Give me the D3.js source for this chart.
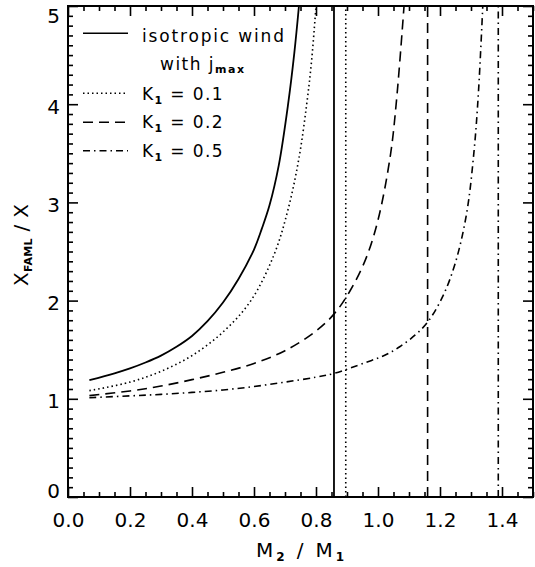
<!DOCTYPE html>
<html><head><meta charset="utf-8">
<script src="https://cdn.jsdelivr.net/npm/d3@7"></script>
<style>
html,body{margin:0;padding:0;background:#fff;}
svg{display:block;}
text{font-family:"DejaVu Sans",sans-serif;fill:#000;}
</style></head>
<body><svg id="c" width="535" height="567"></svg>
<script>
// ---- data ----
const xDomain = [0, 1.5];
const yDomain = [0, 5];
const xMajorTicks = [0.0, 0.2, 0.4, 0.6, 0.8, 1.0, 1.2, 1.4];
const yMajorTicks = [0, 1, 2, 3, 4, 5];

const seriesNames = ["isotropic wind", "K\u2081 = 0.1", "K\u2081 = 0.2", "K\u2081 = 0.5"];

const qSolid  = [0.069, 0.15, 0.20, 0.25, 0.30, 0.35, 0.40, 0.45, 0.50, 0.55, 0.60, 0.625, 0.65, 0.68, 0.71, 0.73, 0.745];
const ySolid  = [1.19, 1.26, 1.31, 1.37, 1.44, 1.53, 1.64, 1.79, 1.98, 2.22, 2.52, 2.73, 2.97, 3.38, 4.00, 4.52, 5.00];

const qK01 = [0.069, 0.20, 0.30, 0.40, 0.50, 0.59, 0.665, 0.71, 0.745, 0.77, 0.786, 0.80];
const yK01 = [1.083, 1.17, 1.28, 1.44, 1.68, 2.00, 2.47, 2.93, 3.45, 4.00, 4.45, 5.00];

const qK02 = [0.069, 0.20, 0.30, 0.40, 0.50, 0.60, 0.70, 0.80, 0.86, 0.91, 0.96, 1.00, 1.04, 1.06, 1.084];
const yK02 = [1.032, 1.08, 1.13, 1.195, 1.27, 1.36, 1.49, 1.69, 1.87, 2.10, 2.42, 2.82, 3.48, 4.05, 5.00];

const qK05 = [0.069, 0.20, 0.30, 0.40, 0.50, 0.60, 0.70, 0.80, 0.86, 0.96, 1.02, 1.07, 1.12, 1.16, 1.21, 1.25, 1.286, 1.31, 1.324, 1.338];
const yK05 = [1.011, 1.03, 1.045, 1.065, 1.09, 1.125, 1.17, 1.22, 1.26, 1.37, 1.44, 1.53, 1.65, 1.78, 2.05, 2.39, 2.89, 3.53, 4.12, 5.00];

// critical mass ratios (vertical lines), same order as series
const qCritical = [0.858, 0.896, 1.160, 1.388];

// ---- layout ----
const W = 535, H = 567;
const m = {left: 68, right: 2, top: 6, bottom: 70};
const iw = W - m.left - m.right, ih = H - m.top - m.bottom;
const dashes = ["none", "1.5,3", "10,6", "7,4,1.5,4"];

const svg = d3.select("#c");
const g = svg.append("g").attr("transform", `translate(${m.left},${m.top})`);
const x = d3.scaleLinear().domain(xDomain).range([0, iw]);
const y = d3.scaleLinear().domain(yDomain).range([ih, 0]);

svg.append("defs").append("clipPath").attr("id", "clip")
  .append("rect").attr("width", iw).attr("height", ih);

const xMinor = d3.range(0, 1.5001, 0.05).map(v => +v.toFixed(2)).filter(v => !xMajorTicks.some(t => Math.abs(t - v) < 1e-6));
const yMinor = d3.range(0, 5.0001, 0.1).map(v => +v.toFixed(1)).filter(v => !yMajorTicks.some(t => Math.abs(t - v) < 1e-6));

function styleAxis(sel) {
  sel.select(".domain").remove();
  sel.selectAll(".tick line").attr("stroke", "#000").attr("stroke-width", 1.6);
}

// bottom axis
g.append("g").attr("transform", `translate(0,${ih})`)
  .call(d3.axisBottom(x).tickValues(xMajorTicks).tickSize(-10).tickPadding(16).tickFormat(d3.format(".1f")))
  .call(styleAxis)
  .call(s => s.selectAll("text").attr("font-size", 20).attr("font-family", "DejaVu Sans"));
g.append("g").attr("transform", `translate(0,${ih})`)
  .call(d3.axisBottom(x).tickValues(xMinor).tickSize(-5).tickFormat(""))
  .call(styleAxis);
// top axis
g.append("g")
  .call(d3.axisTop(x).tickValues(xMajorTicks).tickSize(-10).tickFormat(""))
  .call(styleAxis);
g.append("g")
  .call(d3.axisTop(x).tickValues(xMinor).tickSize(-5).tickFormat(""))
  .call(styleAxis);
// left axis
g.append("g")
  .call(d3.axisLeft(y).tickValues(yMajorTicks).tickSize(-10).tickPadding(8).tickFormat(d3.format("d")))
  .call(styleAxis)
  .call(s => s.selectAll("text").attr("font-size", 20).attr("font-family", "DejaVu Sans")
    .attr("dy", (d, i, n) => i === 0 ? "0.0em" : (i === n.length - 1 ? "0.82em" : "0.45em")));
g.append("g")
  .call(d3.axisLeft(y).tickValues(yMinor).tickSize(-5).tickFormat(""))
  .call(styleAxis);
// right axis
g.append("g").attr("transform", `translate(${iw},0)`)
  .call(d3.axisRight(y).tickValues(yMajorTicks).tickSize(-10).tickFormat(""))
  .call(styleAxis);
g.append("g").attr("transform", `translate(${iw},0)`)
  .call(d3.axisRight(y).tickValues(yMinor).tickSize(-5).tickFormat(""))
  .call(styleAxis);

// frame
g.append("rect").attr("width", iw).attr("height", ih)
  .attr("fill", "none").attr("stroke", "#000").attr("stroke-width", 2);

// curves
const plot = g.append("g").attr("clip-path", "url(#clip)");
const line = d3.line().x(d => x(d[0])).y(d => y(d[1])).curve(d3.curveCatmullRom.alpha(0.5));
const series = [
  d3.zip(qSolid, ySolid),
  d3.zip(qK01, yK01),
  d3.zip(qK02, yK02),
  d3.zip(qK05, yK05)
];
series.forEach((s, i) => {
  plot.append("path").attr("d", line(s))
    .attr("fill", "none").attr("stroke", "#000")
    .attr("stroke-width", i === 0 ? 1.8 : 1.6)
    .attr("stroke-dasharray", dashes[i]);
});
qCritical.forEach((q, i) => {
  plot.append("line")
    .attr("x1", x(q)).attr("x2", x(q)).attr("y1", y(yDomain[0])).attr("y2", y(yDomain[1]))
    .attr("stroke", "#000").attr("stroke-width", i === 0 ? 1.8 : 1.6)
    .attr("stroke-dasharray", dashes[i]);
});

// legend
const legRows = [27.3, 87.3, 116.3, 144.7]; // line y offsets (px from top of plot)
const legText = [36, 94, 122.3, 150.7];
const legLens = [142, 80.5, 80.5, 80.5];
legRows.forEach((ly, i) => {
  g.append("line").attr("x1", 15).attr("x2", 60).attr("y1", ly).attr("y2", ly)
    .attr("stroke", "#000").attr("stroke-width", 1.6).attr("stroke-dasharray", dashes[i]);
  const t = g.append("text").attr("x", 74).attr("y", legText[i]).attr("font-size", 17)
    .attr("textLength", legLens[i]).attr("lengthAdjust", "spacing");
  if (i === 0) {
    t.text(seriesNames[0]);
  } else {
    const name = seriesNames[i];
    t.append("tspan").text("K");
    t.append("tspan").attr("font-size", 11).attr("font-weight", "bold").attr("dy", 4).text("1");
    t.append("tspan").attr("dy", -4).text(name.slice(2));
  }
});
// "with j_max" line
const wj = g.append("text").attr("x", 92).attr("y", 64).attr("font-size", 17)
  .attr("textLength", 84).attr("lengthAdjust", "spacing");
wj.append("tspan").text("with j");
wj.append("tspan").attr("font-size", 11).attr("font-weight", "bold").attr("dy", 3).text("max");

// axis titles
const xt = svg.append("text").attr("x", 300).attr("y", 557).attr("text-anchor", "middle")
  .attr("font-size", 20).attr("textLength", 88).attr("lengthAdjust", "spacing");
xt.append("tspan").text("M");
xt.append("tspan").attr("font-size", 12).attr("font-weight", "bold").attr("dy", 4).text("2");
xt.append("tspan").attr("dy", -4).text(" / M");
xt.append("tspan").attr("font-size", 12).attr("font-weight", "bold").attr("dy", 4).text("1");

const yt = svg.append("text").attr("transform", "translate(28,245) rotate(-90)")
  .attr("text-anchor", "middle").attr("font-size", 20).attr("textLength", 82).attr("lengthAdjust", "spacing");
yt.append("tspan").text("X");
yt.append("tspan").attr("font-size", 11).attr("font-weight", "bold").attr("dy", 4).text("FAML");
yt.append("tspan").attr("dy", -4).text(" / X");
</script>
</body></html>
